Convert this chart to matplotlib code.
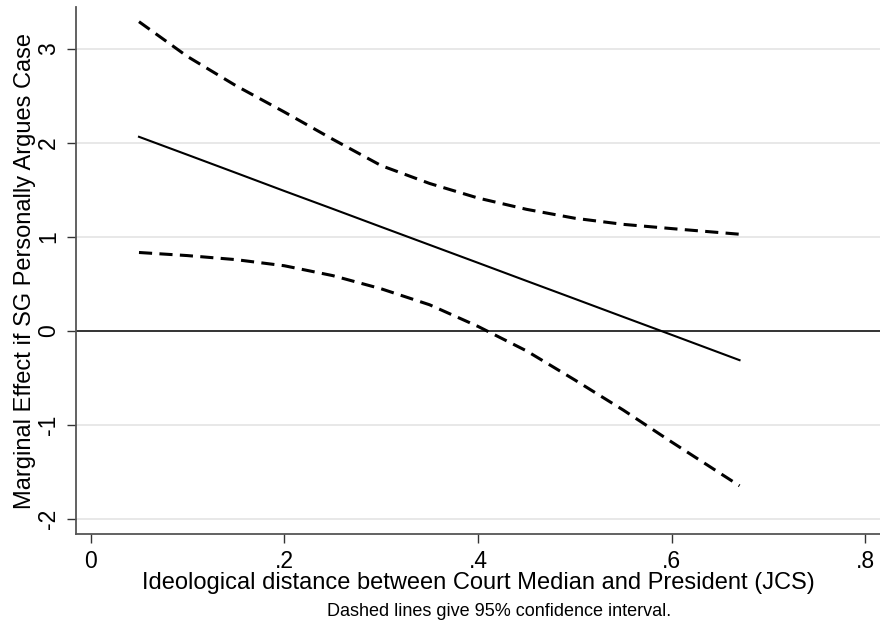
import matplotlib

matplotlib.use("Agg")
import matplotlib.pyplot as plt

plt.rcParams["font.family"] = ["Liberation Sans", "DejaVu Sans"]

# values
dist = [0.05, 0.10, 0.15, 0.20, 0.25, 0.30, 0.35, 0.40, 0.45, 0.50, 0.55, 0.60, 0.67]
effect = [2.066, 1.875, 1.683, 1.49, 1.30, 1.108, 0.917, 0.726, 0.534, 0.343, 0.151, -0.04, -0.309]
upper = [3.29, 2.92, 2.61, 2.33, 2.04, 1.76, 1.57, 1.415, 1.295, 1.20, 1.135, 1.09, 1.03]
lower = [0.836, 0.803, 0.76, 0.695, 0.59, 0.45, 0.28, 0.05, -0.21, -0.52, -0.84, -1.18, -1.645]

xticks = [0, 0.2, 0.4, 0.6, 0.8]
xticklabels = ["0", ".2", ".4", ".6", ".8"]
yticks = [-2, -1, 0, 1, 2, 3]

fig = plt.figure(figsize=(8.8, 6.3), dpi=100)
ax = fig.add_axes([0.0864, 0.152, 0.9136, 0.837])

for y in yticks:
    if y != 0:
        ax.axhline(y, color="#e6e6e6", lw=1.3, zorder=1)
ax.axhline(0, color="#333333", lw=1.4, zorder=2)

ax.plot(dist, effect, color="black", lw=1.5, zorder=3)
for band in (upper, lower):
    ax.plot(dist, band, color="black", lw=2.2, dashes=(4.3, 2.4), zorder=3)

ax.set_xlim(-0.015, 0.815)
ax.set_ylim(-2.16, 3.447)
ax.set_xticks(xticks)
ax.set_xticklabels(xticklabels)
ax.set_yticks(yticks)
ax.set_yticklabels([str(v) for v in yticks], rotation=90, va="center")

for side in ("top", "right"):
    ax.spines[side].set_visible(False)
for side in ("left", "bottom"):
    ax.spines[side].set_color("#555555")
    ax.spines[side].set_linewidth(1.3)
ax.tick_params(axis="both", direction="out", length=6.5, width=1.0,
               color="#333333", labelsize=16.5, pad=5)

ax.set_xlabel("Ideological distance between Court Median and President (JCS)",
              fontsize=17, labelpad=-1)
ax.set_ylabel("Marginal Effect if SG Personally Argues Case", fontsize=17,
              labelpad=1)
fig.text(499 / 880, 1 - 612 / 630, "Dashed lines give 95% confidence interval.",
         ha="center", va="center", fontsize=13)

fig.savefig("out.png", dpi=100)
